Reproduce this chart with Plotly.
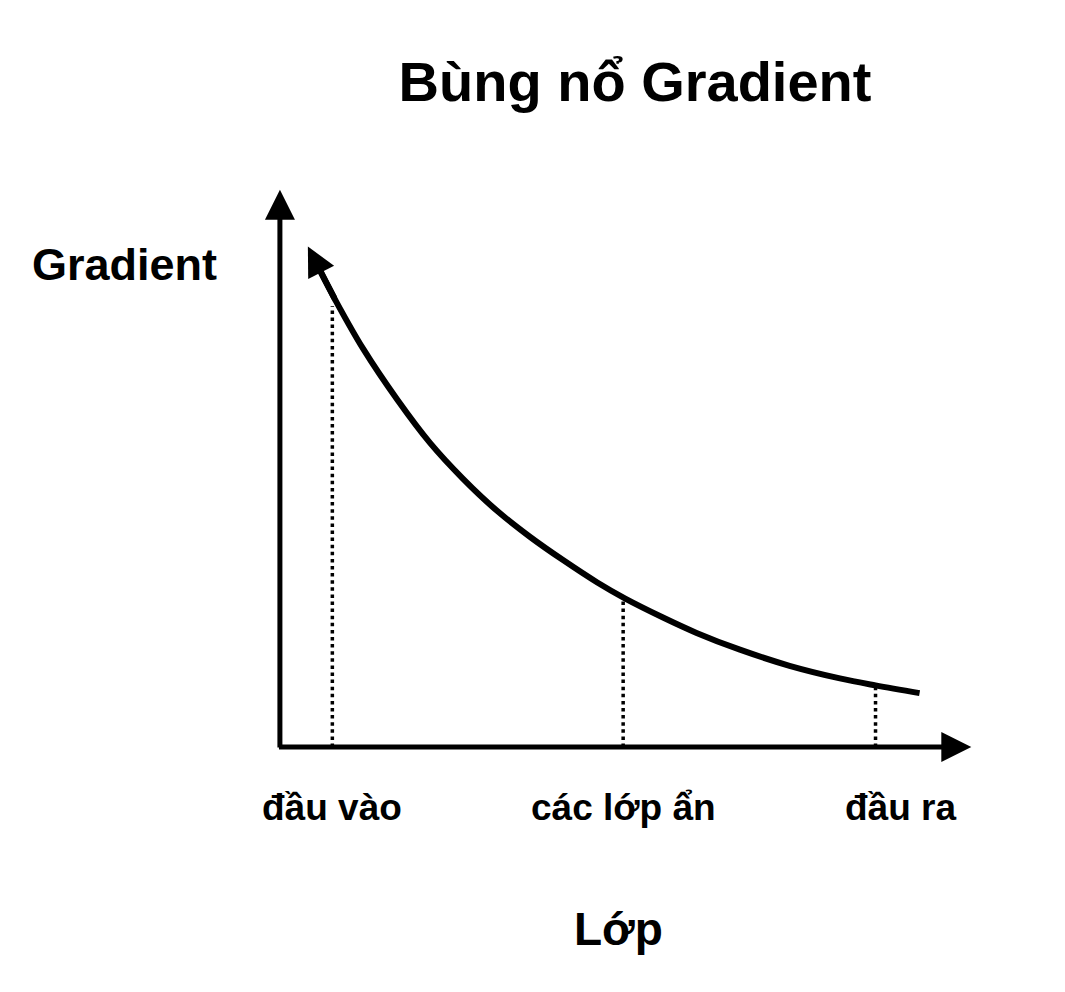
import plotly.graph_objects as go

# ---- data ----
curve_x = [0.58, 0.79, 1.19, 1.68, 2.15, 2.62, 3.11, 3.58, 4.05, 4.54, 4.94, 5.48, 5.96, 6.58, 7.29, 8.01, 8.52, 9.15]
curve_y = [6.79, 6.39, 5.69, 4.96, 4.34, 3.83, 3.37, 3.00, 2.67, 2.35, 2.12, 1.85, 1.63, 1.39, 1.16, 0.98, 0.88, 0.77]
curve_tip_x = 0.40
curve_tip_y = 7.15

layer_labels = ["đầu vào", "các lớp ẩn", "đầu ra"]
layer_x = [0.75, 4.91, 8.52]
layer_grad = [6.30, 2.09, 0.85]

x_axis_max = 9.89
y_axis_max = 7.96

title_text = "Bùng nổ Gradient"
y_label = "Gradient"
x_label = "Lớp"

FONT = "Liberation Sans, Arial, Helvetica, sans-serif"
INK = "#000000"

fig = go.Figure()

# dotted guide lines from the axis up to the curve
for lx, lg in zip(layer_x, layer_grad):
    fig.add_trace(go.Scatter(
        x=[lx, lx], y=[0, lg], mode="lines",
        line=dict(color=INK, width=3.5, dash="3.5px,3.6px"),
        hoverinfo="skip", showlegend=False))

# gradient curve
fig.add_trace(go.Scatter(
    x=curve_x, y=curve_y, mode="lines",
    line=dict(color=INK, width=6, shape="spline", smoothing=1.0),
    hoverinfo="skip", showlegend=False))

annotations = []

def arrow(x, y, ax, ay, width, size):
    return dict(x=x, y=y, ax=ax, ay=ay, xref="x", yref="y", axref="x", ayref="y",
                text="", showarrow=True, arrowhead=2, arrowwidth=width,
                arrowsize=size, arrowcolor=INK, standoff=0,
                font=dict(size=1))

# axes with arrowheads
annotations.append(arrow(x_axis_max, 0, -0.035, 0, 5, 1.2))
annotations.append(arrow(0, y_axis_max, 0, -0.03, 5, 1.2))
# arrowhead at the start of the curve
annotations.append(arrow(curve_tip_x, curve_tip_y, curve_x[1], curve_y[1], 6, 0.97))

# category labels under the axis
label_shift = [0, 0, 25]
for lbl, lx, sh in zip(layer_labels, layer_x, label_shift):
    annotations.append(dict(x=lx, y=0, xref="x", yref="y", text=lbl, showarrow=False,
                            xanchor="center", yanchor="middle", xshift=sh, yshift=-60,
                            font=dict(family=FONT, size=37, color=INK, weight=700)))

# axis titles
annotations.append(dict(x=0, y=6.9, xref="x", yref="y", text=y_label, showarrow=False,
                        xanchor="right", yanchor="middle", xshift=-61,
                        font=dict(family=FONT, size=45, color=INK, weight=700)))
annotations.append(dict(x=4.84, y=0, xref="x", yref="y", text=x_label, showarrow=False,
                        xanchor="center", yanchor="middle", yshift=-182,
                        font=dict(family=FONT, size=46, color=INK, weight=700)))

fig.update_layout(
    width=1065, height=992,
    margin=dict(l=209.5, r=85.5, t=187, b=175),
    paper_bgcolor="white", plot_bgcolor="white",
    showlegend=False,
    title=dict(text=title_text, x=635 / 1065, xref="container", xanchor="center",
               y=1 - 81 / 992, yref="container", yanchor="middle",
               font=dict(family=FONT, size=56, color=INK, weight=700)),
    xaxis=dict(range=[-1, 10], visible=False, fixedrange=True),
    yaxis=dict(range=[-1, 8], visible=False, fixedrange=True),
    annotations=annotations,
)

fig.write_html("out.html")
